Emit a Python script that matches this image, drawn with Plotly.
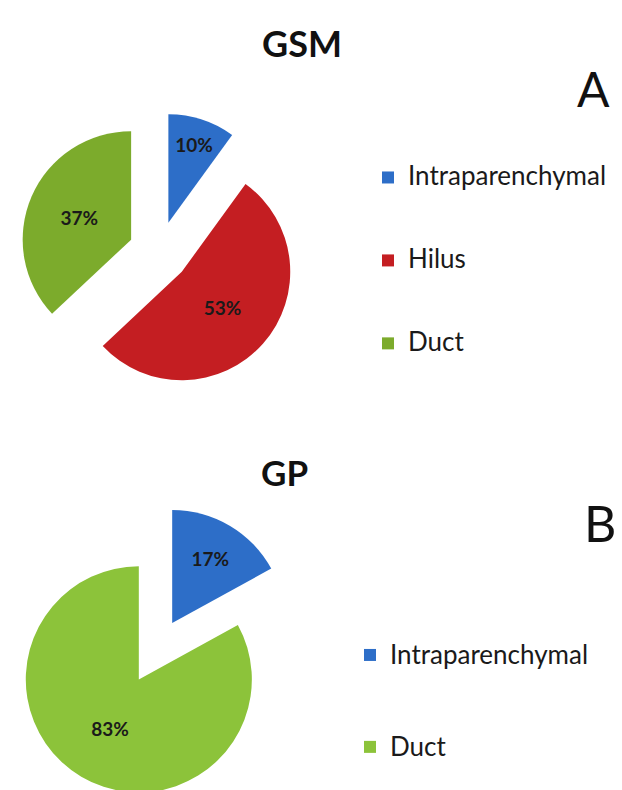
import plotly.graph_objects as go

# ---- data ----
gsm_labels = ["Intraparenchymal", "Hilus", "Duct"]
gsm_values = [10, 53, 37]
gp_labels = ["Intraparenchymal", "Duct"]
gp_values = [17, 83]

# ---- styles ----
BLUE = "#2d6ec8"
RED = "#c41e22"
GREEN_A = "#7cab2c"
GREEN_B = "#8cc33a"
gsm_colors = [BLUE, RED, GREEN_A]
gp_colors = [BLUE, GREEN_B]

W, H = 622, 790
FONT = "Lato"


def padded(label, pad):
    # three-line legend entry (blank, label, blank) to reproduce the wide spacing
    return f"{pad}<br><span style='font-size:26px'>{label}</span><br>{pad}"


def px_x(x):
    return x / W


def px_y(y):
    return 1 - y / H


fig = go.Figure()

fig.add_trace(go.Pie(
    labels=[padded(l, " ") for l in gsm_labels],
    values=gsm_values,
    sort=False,
    direction="clockwise",
    rotation=0,
    pull=[0.28, 0.28, 0.28],
    marker=dict(colors=gsm_colors, line=dict(width=0)),
    texttemplate="%{percent:.0%}",
    textposition="inside",
    insidetextorientation="horizontal",
    textfont=dict(family=FONT, size=19, color="#1a1a1a", weight="bold"),
    domain=dict(x=[px_x(12), px_x(290)], y=[px_y(383), px_y(105)]),
    legend="legend",
    hoverinfo="label+percent",
))

fig.add_trace(go.Pie(
    labels=[padded(l, "\u00a0") for l in gp_labels],
    values=gp_values,
    sort=False,
    direction="clockwise",
    rotation=0,
    pull=[0.29, 0.29],
    marker=dict(colors=gp_colors, line=dict(width=0)),
    texttemplate="%{percent:.0%}",
    textposition="inside",
    insidetextorientation="horizontal",
    textfont=dict(family=FONT, size=19, color="#1a1a1a", weight="bold"),
    domain=dict(x=[0, px_x(295)], y=[0, px_y(498)]),
    legend="legend2",
    hoverinfo="label+percent",
))

legend_common = dict(
    xanchor="left", yanchor="top",
    bgcolor="rgba(0,0,0,0)",
    borderwidth=0,
    tracegroupgap=0,
    itemclick=False,
    itemdoubleclick=False,
)

fig.update_layout(
    width=W, height=H,
    margin=dict(l=0, r=0, t=0, b=0),
    paper_bgcolor="white",
    plot_bgcolor="white",
    legend=dict(x=px_x(360), y=px_y(123),
                font=dict(family=FONT, size=20.5, color="#1a1a1a"), **legend_common),
    legend2=dict(x=px_x(342), y=px_y(597),
                 font=dict(family=FONT, size=22.8, color="#1a1a1a"), **legend_common),
    annotations=[
        dict(text="<b>GSM</b>", x=px_x(294), y=px_y(35), xref="paper", yref="paper",
             xanchor="center", yanchor="middle",
             showarrow=False, font=dict(family=FONT, size=36, color="#111111")),
        dict(text="A", x=px_x(585), y=px_y(81), xref="paper", yref="paper",
             xanchor="center", yanchor="middle",
             showarrow=False, font=dict(family=FONT, size=48, color="#111111")),
        dict(text="<b>GP</b>", x=px_x(276), y=px_y(465), xref="paper", yref="paper",
             xanchor="center", yanchor="middle",
             showarrow=False, font=dict(family=FONT, size=35, color="#111111")),
        dict(text="B", x=px_x(592), y=px_y(516), xref="paper", yref="paper",
             xanchor="center", yanchor="middle",
             showarrow=False, font=dict(family=FONT, size=50, color="#111111")),
    ],
)

fig.write_html("out.html")
